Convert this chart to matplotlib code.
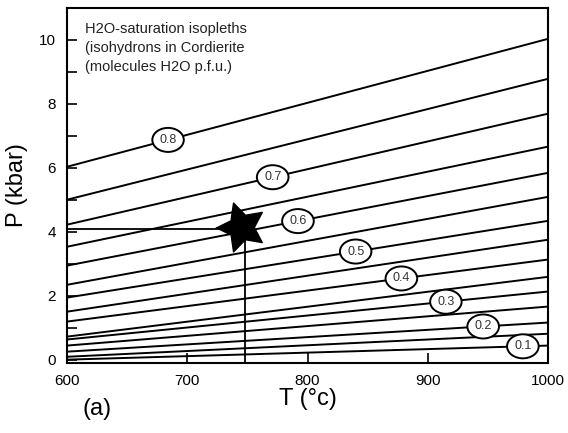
import numpy as np
import matplotlib
matplotlib.use("Agg")
import matplotlib.pyplot as plt

plt.rcParams['font.family'] = ['Liberation Sans', 'DejaVu Sans']

# isohydron values (molecules H2O p.f.u.)
isohydrons = [0.8, 0.75, 0.7, 0.65, 0.6, 0.55, 0.5, 0.45, 0.4, 0.35, 0.3, 0.25, 0.2, 0.15, 0.1]
# pressure (kbar) of each isopleth at 600 and 1000 C
p_at_600 = [6.03, 5.0, 4.22, 3.53, 2.94, 2.34, 1.94, 1.5, 1.19, 0.72, 0.63, 0.44, 0.25, 0.09, 0.0]
p_at_1000 = [10.03, 8.78, 7.69, 6.66, 5.84, 5.09, 4.34, 3.75, 3.13, 2.59, 2.13, 1.66, 1.16, 0.81, 0.44]
t_ends = [600, 1000]

# label positions along T for the labelled isopleths
label_vals = [0.8, 0.7, 0.6, 0.5, 0.4, 0.3, 0.2, 0.1]
label_T = [684, 771, 792, 840, 878, 915, 946, 979]

# estimated condition (star)
star_T = 748
star_P = 4.1

# fat five-point star marker, one point facing left
ang = np.deg2rad(180 + 36 * np.arange(10))
rad = np.where(np.arange(10) % 2 == 0, 1.0, 0.5)
star_shape = np.column_stack([rad * np.cos(ang), rad * np.sin(ang)])

fig = plt.figure(figsize=(5.68, 4.33), dpi=100)
ax = fig.add_axes([0.118, 0.162, 0.847, 0.820])

for v, p0, p1 in zip(isohydrons, p_at_600, p_at_1000):
    ax.plot(t_ends, [p0, p1], color='black', lw=1.4, zorder=2)

for v, t in zip(label_vals, label_T):
    i = isohydrons.index(v)
    p = np.interp(t, t_ends, [p_at_600[i], p_at_1000[i]])
    ax.text(t, p, str(v), ha='center', va='center', fontsize=9, color='#333333',
            bbox=dict(boxstyle='ellipse,pad=0.2', fc='white', ec='black', lw=1.4), zorder=3)

ax.plot([600, star_T], [star_P, star_P], color='black', lw=1.3, zorder=2)
ax.plot([star_T, star_T], [star_P, -0.1], color='black', lw=1.3, zorder=2)
ax.plot(star_T - 3, star_P + 0.05, marker=star_shape, markersize=37, color='black', zorder=4)

ax.text(0.038, 0.96, "H2O-saturation isopleths\n(isohydrons in Cordierite\n(molecules H2O p.f.u.)",
        transform=ax.transAxes, ha='left', va='top', fontsize=10.5, color='#222222', linespacing=1.45)

ax.set_xlim(600, 1000)
ax.set_ylim(-0.1, 11)
ax.set_xticks([600, 700, 800, 900, 1000])
ax.set_yticks([0, 2, 4, 6, 8, 10])
ax.set_yticks(np.arange(0, 11, 1), minor=True)
ax.tick_params(direction='in', length=7, width=1.2, labelsize=11, pad=8)
ax.tick_params(axis='y', which='minor', direction='in', length=7, width=1.2)
for s in ax.spines.values():
    s.set_linewidth(1.5)

ax.set_xlabel("T (°c)", fontsize=17, labelpad=0)
ax.set_ylabel("P (kbar)", fontsize=17, labelpad=8)
fig.text(0.145, 0.03, "(a)", fontsize=17, ha='left', va='bottom')

fig.savefig("out.png", dpi=100)
